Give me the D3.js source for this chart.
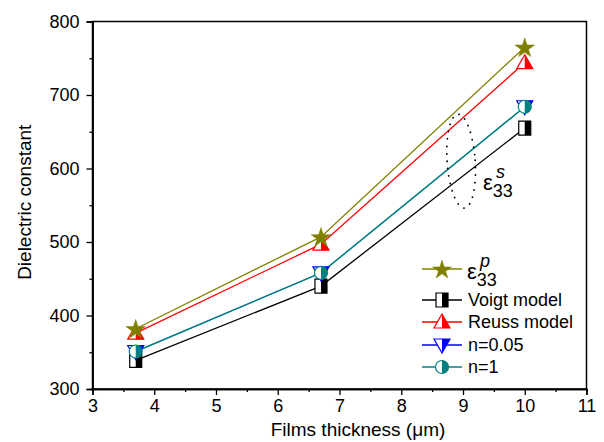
<!DOCTYPE html>
<html>
<head>
<meta charset="utf-8">
<script src="https://cdn.jsdelivr.net/npm/d3@7/dist/d3.min.js"></script>
<style>
  html, body { margin: 0; padding: 0; background: #fff; }
  svg { display: block; font-family: "Liberation Sans", Arial, sans-serif; }
</style>
</head>
<body>
<svg id="chart" width="604" height="442"></svg>
<script>
// Film thickness (µm)
const thickness = [3.7, 6.7, 10];

// Dielectric constant series
const epsP   = [382, 507, 765];
const voigt  = [339, 440, 655];
const reuss  = [376, 497, 744];
const n005   = [351, 458, 684];
const n1     = [351, 458, 684];

const xTicks = [3, 4, 5, 6, 7, 8, 9, 10, 11];
const yTicks = [300, 400, 500, 600, 700, 800];

const series = [
  { key: "eps",   values: epsP,  color: "#808000", marker: "star",    width: 1.3 },
  { key: "voigt", values: voigt, color: "#000000", marker: "square",  width: 1.3, label: "Voigt model" },
  { key: "reuss", values: reuss, color: "#ff0000", marker: "triUp",   width: 1.3, label: "Reuss model" },
  { key: "n005",  values: n005,  color: "#0000ff", marker: "triDown", width: 0.8, label: "n=0.05" },
  { key: "n1",    values: n1,    color: "#008080", marker: "circle",  width: 1.5, label: "n=1" }
];

const svg = d3.select("#chart");
const m = { left: 92.5, right: 586.5, top: 21.5, bottom: 389 };

const x = d3.scaleLinear().domain([3, 11]).range([m.left, m.right]);
const y = d3.scaleLinear().domain([300, 800]).range([m.bottom, m.top]);

// Frame
svg.append("rect")
  .attr("x", m.left).attr("y", m.top)
  .attr("width", m.right - m.left).attr("height", m.bottom - m.top)
  .attr("fill", "none").attr("stroke", "#000").attr("stroke-width", 1.5);

// Axes with outward major/minor ticks
const xMinor = d3.range(3.5, 11, 1);
const yMinor = d3.range(350, 800, 100);

const gx = svg.append("g").attr("transform", `translate(0,${m.bottom})`);
gx.call(d3.axisBottom(x).tickValues(xTicks).tickSize(6).tickPadding(4).tickFormat(d3.format("d")));
gx.append("g").call(d3.axisBottom(x).tickValues(xMinor).tickSize(3).tickFormat(""));

const gy = svg.append("g").attr("transform", `translate(${m.left},0)`);
gy.call(d3.axisLeft(y).tickValues(yTicks).tickSize(6).tickPadding(7).tickFormat(d3.format("d")));
gy.append("g").call(d3.axisLeft(y).tickValues(yMinor).tickSize(3).tickFormat(""));

svg.selectAll(".domain").attr("stroke-width", 1.5);
svg.selectAll(".tick line").attr("stroke-width", 1.3);
svg.selectAll(".tick text").attr("font-size", 18).attr("fill", "#000")
  .attr("font-family", "'Liberation Sans', Arial, sans-serif");

// Axis titles
svg.append("text")
  .attr("x", 358).attr("y", 436)
  .attr("text-anchor", "middle").attr("font-size", 19)
  .text("Films thickness (\u03bcm)");

svg.append("text")
  .attr("transform", `translate(31,${(m.top + m.bottom) / 2 - 3}) rotate(-90)`)
  .attr("text-anchor", "middle").attr("font-size", 19)
  .text("Dielectric constant");

// Lines
const line = d3.line().x((d, i) => x(thickness[i])).y(d => y(d));
series.forEach(s => {
  svg.append("path")
    .datum(s.values)
    .attr("d", line)
    .attr("fill", "none")
    .attr("stroke", s.color)
    .attr("stroke-width", s.width);
});

// Half-filled marker drawing
let clipId = 0;
function drawMarker(g, type, color, cx, cy, starSize) {
  const size = 6;
  if (type === "star") {
    g.append("path")
      .attr("d", d3.symbol().type(d3.symbolStar).size(starSize || 120)())
      .attr("transform", `translate(${cx},${cy + 1})`)
      .attr("fill", color).attr("stroke", color).attr("stroke-width", 0.5);
    return;
  }
  let shape;
  if (type === "square") {
    shape = `M${-size},${-size - 1}H${size}V${size + 1}H${-size}Z`;
  } else if (type === "triUp") {
    shape = `M0,${-size - 2}L${size + 2},${size}L${-size - 2},${size}Z`;
  } else if (type === "triDown") {
    shape = `M0,${size + 2}L${size + 2},${-size}L${-size - 2},${-size}Z`;
  } else {
    shape = d3.arc()({ innerRadius: 0, outerRadius: size + 0.5, startAngle: 0, endAngle: 2 * Math.PI });
  }
  const id = "half" + (clipId++);
  const mg = g.append("g").attr("transform", `translate(${cx},${cy})`);
  mg.append("clipPath").attr("id", id)
    .append("rect").attr("x", 0).attr("y", -20).attr("width", 20).attr("height", 40);
  mg.append("path").attr("d", shape).attr("fill", "#fff");
  mg.append("path").attr("d", shape).attr("fill", color).attr("clip-path", `url(#${id})`);
  mg.append("path").attr("d", shape).attr("fill", "none").attr("stroke", color).attr("stroke-width", 1.2);
}

const markG = svg.append("g");
// Draw in order so the star and the n=1 circle sit on top
["voigt", "reuss", "n005", "n1", "eps"].forEach(k => {
  const s = series.find(d => d.key === k);
  s.values.forEach((v, i) => drawMarker(markG, s.marker, s.color, x(thickness[i]), y(v)));
});

// Dotted ellipse around the clamped-film curves
const ecx = x(8.97), ecy = y(610);
svg.append("ellipse")
  .attr("cx", ecx).attr("cy", ecy)
  .attr("rx", 14).attr("ry", 47)
  .attr("transform", `rotate(-4,${ecx},${ecy})`)
  .attr("fill", "none").attr("stroke", "#000")
  .attr("stroke-width", 1.8).attr("stroke-dasharray", "0.1,7.3").attr("stroke-linecap", "round");

function epsLabel(g, tx, ty, sup) {
  const t = g.append("text").attr("x", tx).attr("y", ty).attr("font-size", 22);
  t.append("tspan").text("\u03b5");
  t.append("tspan").attr("font-size", 18).attr("dy", 7).text("33");
  g.append("text").attr("x", tx + 13).attr("y", ty - 12)
    .attr("font-size", 18).attr("font-style", "italic").text(sup);
}
epsLabel(svg, 483, 190, "s");

// Legend
const legendRows = [
  { key: "eps", y: 269 }, { key: "voigt", y: 300 }, { key: "reuss", y: 322 },
  { key: "n005", y: 345 }, { key: "n1", y: 367 }
];
const lg = svg.append("g");
legendRows.forEach(r => {
  const s = series.find(d => d.key === r.key);
  lg.append("line").attr("x1", 422).attr("x2", 462).attr("y1", r.y).attr("y2", r.y)
    .attr("stroke", s.color).attr("stroke-width", 1.3);
  drawMarker(lg, s.marker, s.color, 442, r.y, 110);
  if (s.label) {
    lg.append("text").attr("x", 468).attr("y", r.y + 6).attr("font-size", 18).text(s.label);
  }
});
epsLabel(lg, 467, 279, "p");
</script>
</body>
</html>
